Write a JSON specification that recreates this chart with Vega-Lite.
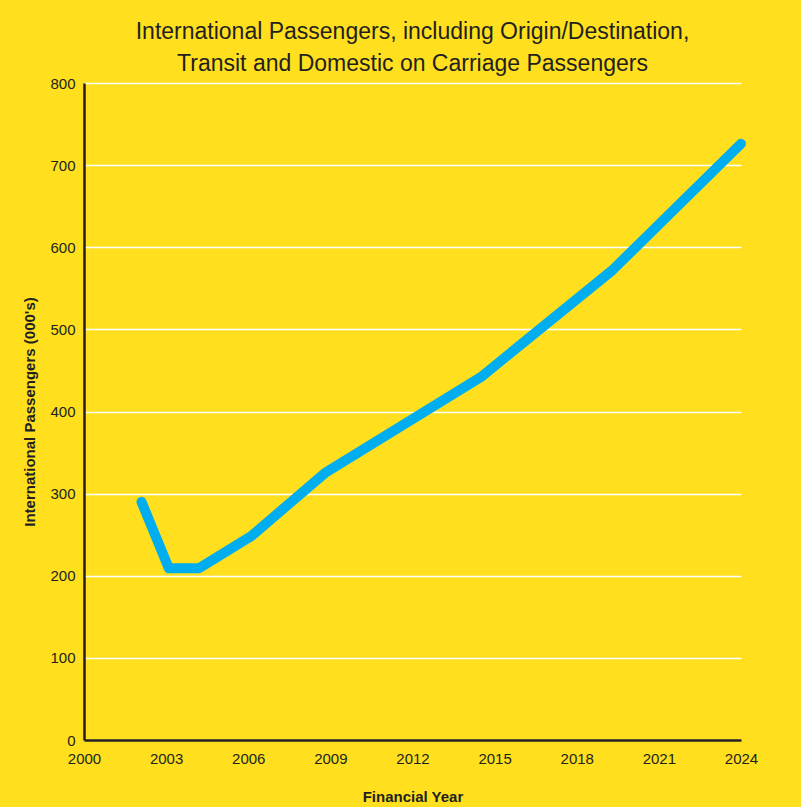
{
  "$schema": "https://vega.github.io/schema/vega-lite/v6.json",
  "autosize": "none",
  "width": 657,
  "height": 657,
  "padding": {"left": 84, "top": 83, "right": 60, "bottom": 67},
  "background": "#FFDF1E",
  "title": {
    "text": ["International Passengers, including Origin/Destination,", "Transit and Domestic on Carriage Passengers"],
    "anchor": "middle",
    "font": "Liberation Sans",
    "fontSize": 23,
    "fontWeight": "normal",
    "color": "#231F20",
    "lineHeight": 32,
    "offset": 0
  },
  "data": {
    "values": [
      {"year": 2002.1, "passengers": 290},
      {"year": 2003.1, "passengers": 209},
      {"year": 2004.2, "passengers": 209},
      {"year": 2006.1, "passengers": 248},
      {"year": 2008.8, "passengers": 325},
      {"year": 2014.5, "passengers": 442},
      {"year": 2019.3, "passengers": 572},
      {"year": 2024.0, "passengers": 726}
    ]
  },
  "mark": {
    "type": "line",
    "color": "#00AEEF",
    "strokeWidth": 10,
    "strokeCap": "round",
    "strokeJoin": "round",
    "clip": false
  },
  "encoding": {
    "x": {
      "field": "year",
      "type": "quantitative",
      "title": "Financial Year",
      "scale": {"domain": [2000, 2024], "nice": false, "zero": false},
      "axis": {
        "values": [2000, 2003, 2006, 2009, 2012, 2015, 2018, 2021, 2024],
        "format": "d",
        "grid": false,
        "ticks": false,
        "labelFlush": false,
        "labelPadding": 11,
        "titlePadding": 23
      }
    },
    "y": {
      "field": "passengers",
      "type": "quantitative",
      "title": "International Passengers (000's)",
      "scale": {"domain": [0, 800], "nice": false},
      "axis": {
        "values": [0, 100, 200, 300, 400, 500, 600, 700, 800],
        "grid": true,
        "ticks": false,
        "labelPadding": 9,
        "titlePadding": 12
      }
    }
  },
  "config": {
    "view": {"stroke": null},
    "axis": {
      "domainColor": "#231F20",
      "domainWidth": 2.5,
      "gridColor": "#FFFFFF",
      "gridWidth": 1.5,
      "gridOpacity": 1,
      "labelFont": "Liberation Sans",
      "labelFontSize": 15,
      "labelColor": "#231F20",
      "titleFont": "Liberation Sans",
      "titleFontSize": 15,
      "titleFontWeight": "bold",
      "titleColor": "#231F20"
    }
  }
}
